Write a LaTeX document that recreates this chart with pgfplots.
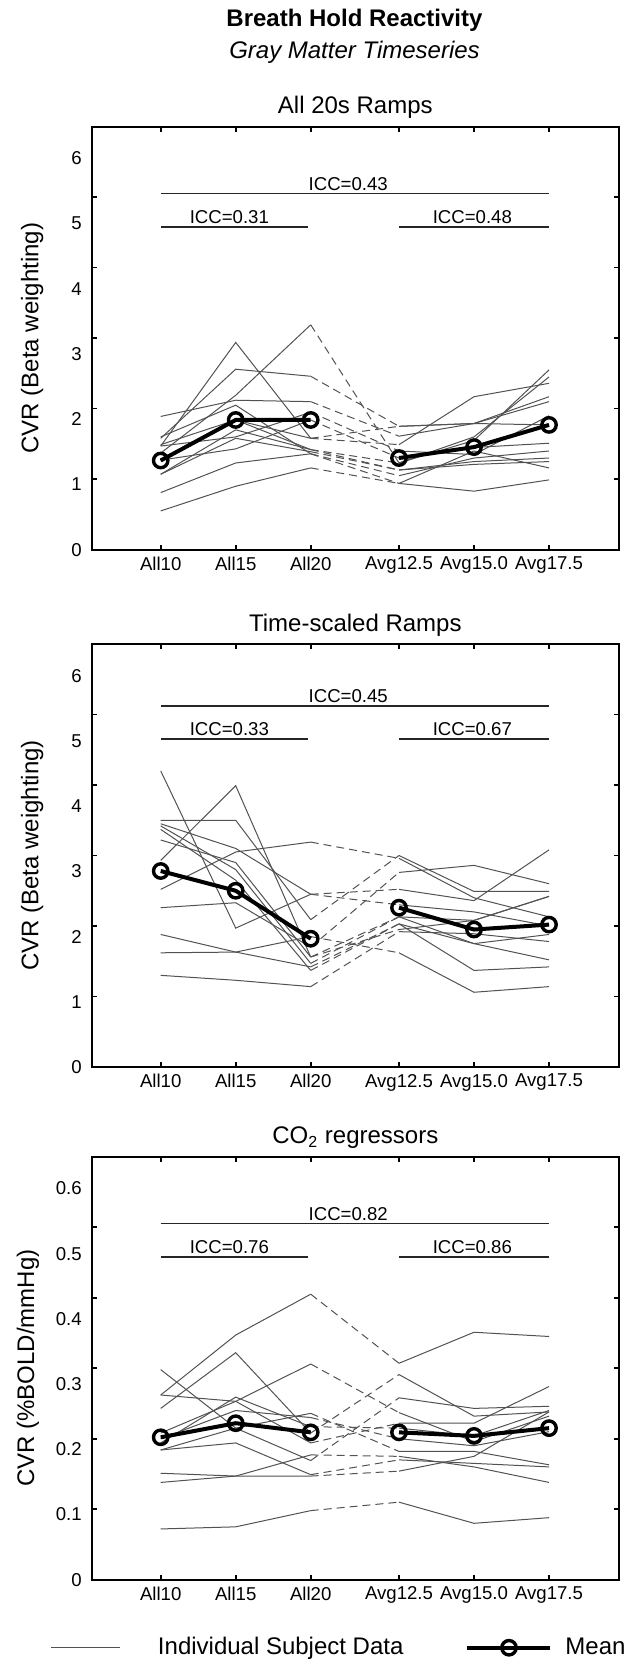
\documentclass[border=0pt]{standalone}
\usepackage{fontspec}
\setmainfont{Liberation Sans}
\usepackage{pgfplots}
\usepackage{pgfplotstable}
\pgfplotsset{compat=1.18}

\newcommand{\tickfont}{\fontsize{9.3}{11}\selectfont}
\newcommand{\labfont}{\fontsize{12}{14}\selectfont}

% Panel 1: All 20s Ramps
\pgfplotstableread{
x s1 s2 s3 s4 s5 s6 s7 s8 s9 s10 s11 s12 s13 m
1 1.47 1.58 1.89 1.37 1.27 1.49 1.07 0.81 0.55 1.27 1.07 1.60 1.47 1.265
2 2.94 2.56 2.12 2.19 1.43 1.84 1.58 1.23 0.90 1.84 1.70 2.05 1.60 1.84
3 1.58 2.46 2.10 3.19 1.84 1.42 1.39 1.36 1.16 1.58 1.42 1.36 1.95 1.84
4.177 1.49 1.75 1.61 1.23 1.30 1.13 1.13 0.94 0.94 1.75 1.23 1.05 1.40 1.30
5.177 2.17 1.79 1.79 1.55 1.45 1.25 1.21 1.40 0.83 1.79 1.60 1.30 1.35 1.455
6.177 2.36 2.10 2.17 2.55 1.51 1.30 1.25 1.16 0.99 1.77 2.45 1.40 1.90 1.77
}\tabA

% Panel 2: Time-scaled Ramps
\pgfplotstableread{
x s1 s2 s3 s4 s5 s6 s7 s8 s9 s10 s11 s12 m
1 4.20 2.93 3.50 2.52 2.26 1.88 1.62 1.30 3.42 3.37 3.22 3.45 2.78
2 1.97 3.99 3.50 3.05 2.33 1.63 1.63 1.23 2.80 2.65 2.90 3.10 2.50
3 2.45 1.56 2.09 3.19 1.70 1.42 1.85 1.14 1.47 1.37 1.56 2.45 1.82
4.177 2.52 2.13 3.00 2.96 2.76 2.03 1.62 1.92 2.13 2.03 1.95 2.30 2.26
5.177 2.36 2.08 2.49 2.40 2.86 1.37 1.06 1.89 1.75 1.75 2.08 2.20 1.95
6.177 3.08 2.42 2.49 2.13 2.60 1.42 1.14 1.78 1.52 1.88 2.42 2.00 2.02
}\tabB

% Panel 3: CO2 regressors
\pgfplotstableread{
x s1 s2 s3 s4 s5 s6 s7 s8 s9 s10 s11 s12 m
1 0.262 0.243 0.298 0.208 0.262 0.194 0.184 0.151 0.138 0.184 0.072 0.200 0.202
2 0.347 0.322 0.215 0.253 0.253 0.259 0.215 0.147 0.147 0.194 0.075 0.240 0.222
3 0.405 0.208 0.169 0.306 0.194 0.217 0.236 0.147 0.177 0.149 0.098 0.230 0.209
4.177 0.307 0.291 0.258 0.237 0.222 0.215 0.182 0.154 0.175 0.170 0.110 0.200 0.209
5.177 0.351 0.232 0.243 0.196 0.222 0.204 0.182 0.175 0.160 0.165 0.080 0.190 0.204
6.177 0.345 0.238 0.246 0.232 0.274 0.240 0.163 0.238 0.138 0.160 0.088 0.210 0.215
}\tabC

\pgfplotsset{
  panel/.style={
    scale only axis, width=263.65pt, height=211.5pt,
    xmin=0.08, xmax=7.11, ymin=0,
    xtick={1,2,3,4.177,5.177,6.177},
    xticklabels={All10,All15,All20,Avg12.5,Avg15.0,Avg17.5},
    tick align=inside, tick pos=both,
    major tick length=2.5pt,
    yticklabels={},
    extra y tick style={major tick length=0pt},
    every tick/.append style={line width=0.8pt, black},
    axis line style={line width=0.9pt},
    tick label style={font=\tickfont},
    yticklabel style={xshift=-1.5pt},
    every axis title/.style={at={(0.5,1)}, anchor=base, yshift=6.5pt, font=\labfont},
    every axis y label/.style={at={(axis description cs:-0.113,0.5)}, rotate=90, anchor=center, font=\labfont},
    /pgf/number format/assume math mode=true,
  },
  indiv/.style={black!68, line width=0.5pt, no markers},
  indivd/.style={indiv, dash pattern=on 4pt off 2.5pt},
  meanst/.style={black, line width=2pt, mark=o, mark size=3.6pt, mark options={line width=1.7pt, fill=white, solid}},
  legindiv/.style={legend image code/.code={\draw[##1] (0pt,0pt) -- (34.5pt,0pt); \path (53pt,0pt);}},
  legmean/.style={legend image code/.code={\path (-31pt,0pt); \draw[##1, mark repeat=2, mark phase=2] plot coordinates {(0pt,0pt) (20.75pt,0pt) (41.5pt,0pt)}; \path (48pt,0pt);}},
}

\newcommand{\icc}[5]{%
  \draw[line width=0.75pt, black!85] (axis cs:1,#1) -- (axis cs:6.177,#1);
  \draw[line width=0.75pt, black!85] (axis cs:1,#2) -- (axis cs:2.96,#2);
  \draw[line width=0.75pt, black!85] (axis cs:4.177,#2) -- (axis cs:6.177,#2);
  \node[anchor=base, yshift=1.8pt, font=\tickfont, inner sep=0pt] at (axis cs:3.5,#1) {#3};
  \node[anchor=base, yshift=1.8pt, font=\tickfont, inner sep=0pt] at (axis cs:1.915,#2) {#4};
  \node[anchor=base, yshift=1.8pt, font=\tickfont, inner sep=0pt] at (axis cs:5.155,#2) {#5};
}

\newcommand{\subjects}[2]{%
  \pgfplotsinvokeforeach{1,...,#2}{
    \addplot[indiv, restrict x to domain=0:3.5] table[x=x,y=s##1]{#1};
    \addplot[indiv, restrict x to domain=3.5:7] table[x=x,y=s##1]{#1};
    \addplot[indivd, restrict x to domain=2.5:4.5] table[x=x,y=s##1]{#1};
  }
  \addplot[meanst, restrict x to domain=0:3.5] table[x=x,y=m]{#1};
  \addplot[meanst, restrict x to domain=3.5:7] table[x=x,y=m]{#1};
}

\begin{document}
\begin{tikzpicture}
\useasboundingbox (0,0) rectangle (319.5pt,-831.5pt);

\node[font=\bfseries\labfont] at (177.25pt,-10pt) {Breath Hold Reactivity};
\node[font=\itshape\labfont] at (177.25pt,-26pt) {Gray Matter Timeseries};

% Panel 1
\begin{axis}[panel, at={(45.85pt,-63.35pt)}, anchor=north west,
  ymax=6, ytick={0,1,2,3,4,5,6},
  extra y ticks={0,0.925,1.85,2.775,3.7,4.625,5.55},
  extra y tick labels={0,1,2,3,4,5,6},
  title={All 20s Ramps}, ylabel={CVR (Beta weighting)}]
  \subjects{\tabA}{13}
  \icc{5.05}{4.58}{ICC=0.43}{ICC=0.31}{ICC=0.48}
\end{axis}

% Panel 2
\begin{axis}[panel, at={(45.85pt,-322pt)}, anchor=north west,
  ymax=6, ytick={0,1,2,3,4,5,6},
  extra y ticks={0,0.925,1.85,2.775,3.7,4.625,5.55},
  extra y tick labels={0,1,2,3,4,5,6},
  title={Time-scaled Ramps}, ylabel={CVR (Beta weighting)}]
  \subjects{\tabB}{12}
  \icc{5.12}{4.65}{ICC=0.45}{ICC=0.33}{ICC=0.67}
\end{axis}

% Panel 3
\begin{axis}[panel, at={(45.85pt,-578.35pt)}, anchor=north west,
  ymax=0.6, ytick={0,0.1,0.2,0.3,0.4,0.5,0.6},
  extra y ticks={0,0.0925,0.185,0.2775,0.37,0.4625,0.555},
  extra y tick labels={0,0.1,0.2,0.3,0.4,0.5,0.6},
  every axis y label/.style={at={(axis description cs:-0.121,0.5)}, rotate=90, anchor=center, font=\labfont},
  title={CO\textsubscript{2} regressors}, ylabel={CVR (\%BOLD/mmHg)},
  legend style={at={(axis description cs:-0.0772,-0.1608)}, anchor=west, draw=none, fill=none,
    inner sep=0pt, outer sep=0pt, font=\labfont, column sep=0pt, nodes={inner sep=0pt}},
  legend columns=2]
  \addlegendimage{indiv, legindiv}
  \addlegendentry{Individual Subject Data}
  \addlegendimage{meanst, legmean}
  \addlegendentry{Mean}
  \subjects{\tabC}{12}
  \icc{0.505}{0.458}{ICC=0.82}{ICC=0.76}{ICC=0.86}
\end{axis}
\end{tikzpicture}
\end{document}
